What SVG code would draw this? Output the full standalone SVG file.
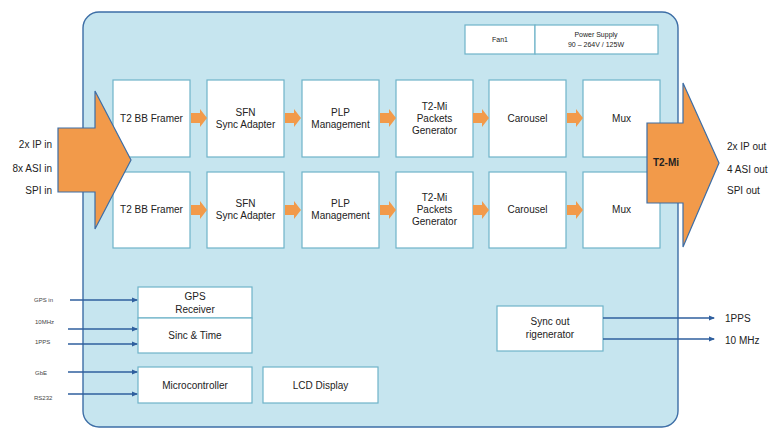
<svg xmlns="http://www.w3.org/2000/svg" width="779" height="432" viewBox="0 0 779 432">
  <defs>
    <style>
      text { font-family: "Liberation Sans", Arial, sans-serif; fill: #222; }
      .blk { fill: #ffffff; stroke: #6fb3c9; stroke-width: 1.2; }
      .lbl { font-size: 10px; text-anchor: middle; }
      .sm { font-size: 7px; text-anchor: middle; }
      .io { font-size: 10px; }
      .tiny { font-size: 6px; fill: #444; }
      .big { fill: #f29a4a; stroke: #3d6ea6; stroke-width: 1.2; }
      .step { fill: #f29a4a; }
      .wire { stroke: #2f5f9e; stroke-width: 1.6; fill: none; marker-end: url(#ah); }
    </style>
    <marker id="ah" markerWidth="6" markerHeight="6" refX="5" refY="3" orient="auto" markerUnits="userSpaceOnUse">
      <path d="M0,0.5 L6,3 L0,5.5 z" fill="#2f5f9e"/>
    </marker>
    <path id="step" d="M0,-5 L9,-5 L9,-9 L16,0 L9,9 L9,5 L0,5 z"/>
  </defs>

  <!-- chassis -->
  <rect id="chassis" x="83" y="12" width="595" height="415" rx="16" fill="#c6e5ef" stroke="#3d6ea6" stroke-width="1.4"/>

  <!-- power / fan -->
  <g id="fan">
    <rect class="blk" x="465" y="25" width="70" height="29"/>
    <text class="sm" x="500" y="42">Fan1</text>
  </g>
  <g id="psu">
    <rect class="blk" x="535" y="25" width="123" height="29"/>
    <text class="sm" x="596" y="37">Power Supply</text>
    <text class="sm" x="596" y="47">90 – 264V / 125W</text>
  </g>

  <!-- chain 1 -->
  <g id="framer1"><rect class="blk" x="113" y="80" width="77" height="77"/><text class="lbl" x="151.5" y="122">T2 BB Framer</text></g>
  <g id="sfn1"><rect class="blk" x="207" y="80" width="77" height="77"/><text class="lbl" x="245.5" y="116">SFN</text><text class="lbl" x="245.5" y="128">Sync Adapter</text></g>
  <g id="plp1"><rect class="blk" x="302" y="80" width="77" height="77"/><text class="lbl" x="340.5" y="116">PLP</text><text class="lbl" x="340.5" y="128">Management</text></g>
  <g id="gen1"><rect class="blk" x="396" y="80" width="77" height="77"/><text class="lbl" x="434.5" y="110">T2-Mi</text><text class="lbl" x="434.5" y="122">Packets</text><text class="lbl" x="434.5" y="134">Generator</text></g>
  <g id="carousel1"><rect class="blk" x="489" y="80" width="77" height="77"/><text class="lbl" x="527.5" y="122">Carousel</text></g>
  <g id="mux1"><rect class="blk" x="583" y="80" width="77" height="77"/><text class="lbl" x="621.5" y="122">Mux</text></g>

  <!-- chain 2 -->
  <g id="framer2"><rect class="blk" x="113" y="172" width="77" height="76"/><text class="lbl" x="151.5" y="213">T2 BB Framer</text></g>
  <g id="sfn2"><rect class="blk" x="207" y="172" width="77" height="76"/><text class="lbl" x="245.5" y="207">SFN</text><text class="lbl" x="245.5" y="219">Sync Adapter</text></g>
  <g id="plp2"><rect class="blk" x="302" y="172" width="77" height="76"/><text class="lbl" x="340.5" y="207">PLP</text><text class="lbl" x="340.5" y="219">Management</text></g>
  <g id="gen2"><rect class="blk" x="396" y="172" width="77" height="76"/><text class="lbl" x="434.5" y="201">T2-Mi</text><text class="lbl" x="434.5" y="213">Packets</text><text class="lbl" x="434.5" y="225">Generator</text></g>
  <g id="carousel2"><rect class="blk" x="489" y="172" width="77" height="76"/><text class="lbl" x="527.5" y="213">Carousel</text></g>
  <g id="mux2"><rect class="blk" x="583" y="172" width="77" height="76"/><text class="lbl" x="621.5" y="213">Mux</text></g>

  <!-- input arrow (drawn over the framers) -->
  <g id="input">
    <path class="big" d="M58,128 L95,128 L95,91 L131,160 L95,229 L95,192 L58,192 z"/>
    <text class="io" x="52" y="148" text-anchor="end">2x IP  in</text>
    <text class="io" x="52" y="172" text-anchor="end">8x ASI in</text>
    <text class="io" x="52" y="194" text-anchor="end">SPI  in</text>
  </g>

  <!-- output arrow (drawn over the muxes) -->
  <g id="output">
    <path class="big" d="M647,123 L683,123 L683,83 L719,163 L683,247 L683,203 L647,203 z"/>
    <text x="666" y="166" text-anchor="middle" style="font-size:10px;font-weight:bold">T2-Mi</text>
    <text class="io" x="727" y="150">2x IP  out</text>
    <text class="io" x="727" y="173">4 ASI out</text>
    <text class="io" x="727" y="194">SPI  out</text>
  </g>

  <!-- timing / control -->
  <g id="gps"><rect class="blk" x="138" y="287" width="114" height="31"/><text class="lbl" x="195" y="300">GPS</text><text class="lbl" x="195" y="313">Receiver</text></g>
  <g id="sinc"><rect class="blk" x="138" y="318" width="114" height="35"/><text class="lbl" x="195" y="339">Sinc &amp; Time</text></g>
  <g id="mcu"><rect class="blk" x="138" y="367" width="114" height="36"/><text class="lbl" x="195" y="389">Microcontroller</text></g>
  <g id="lcd"><rect class="blk" x="263" y="367" width="115" height="36"/><text class="lbl" x="320.5" y="389">LCD Display</text></g>
  <g id="syncout"><rect class="blk" x="497" y="306" width="106" height="45"/><text class="lbl" x="550" y="325">Sync out</text><text class="lbl" x="550" y="338">rigenerator</text></g>

  <!-- signal labels -->
  <g id="sig-labels">
    <text class="tiny" x="34" y="302">GPS in</text>
    <text class="tiny" x="35" y="324">10MHz</text>
    <text class="tiny" x="35" y="344">1PPS</text>
    <text class="tiny" x="35" y="375">GbE</text>
    <text class="tiny" x="34" y="400">RS232</text>
    <text class="io" x="725" y="322">1PPS</text>
    <text class="io" x="725" y="344">10 MHz</text>
  </g>

  <!-- connectors -->
  <g id="connectors">
    <use href="#step" class="step" x="191" y="118"/>
    <use href="#step" class="step" x="285" y="118"/>
    <use href="#step" class="step" x="380" y="118"/>
    <use href="#step" class="step" x="473" y="118"/>
    <use href="#step" class="step" x="567" y="118"/>
    <use href="#step" class="step" x="191" y="210"/>
    <use href="#step" class="step" x="285" y="210"/>
    <use href="#step" class="step" x="380" y="210"/>
    <use href="#step" class="step" x="473" y="210"/>
    <use href="#step" class="step" x="567" y="210"/>
    <line class="wire" x1="70" y1="300" x2="137" y2="300"/>
    <line class="wire" x1="68" y1="329" x2="137" y2="329"/>
    <line class="wire" x1="68" y1="344" x2="137" y2="344"/>
    <line class="wire" x1="68" y1="372" x2="137" y2="372"/>
    <line class="wire" x1="68" y1="394" x2="137" y2="394"/>
    <line class="wire" x1="603" y1="318" x2="714" y2="318"/>
    <line class="wire" x1="603" y1="339" x2="714" y2="339"/>
  </g>
</svg>
